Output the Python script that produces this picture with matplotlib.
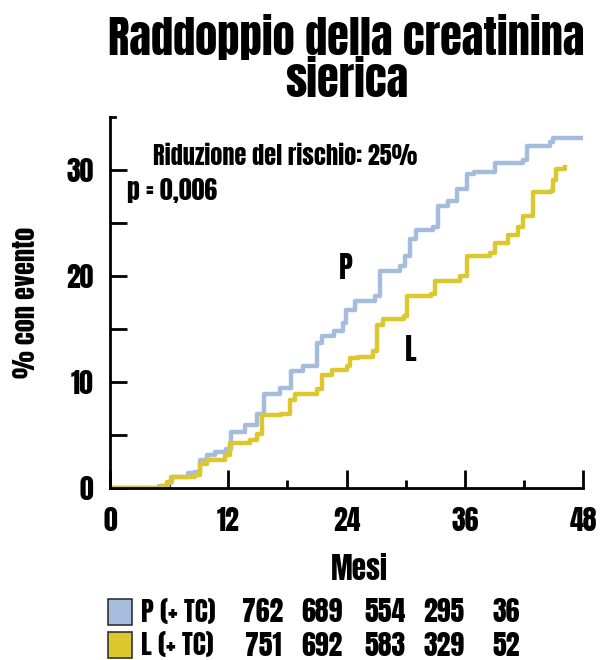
import matplotlib
matplotlib.use('Agg')
import matplotlib.pyplot as plt
from matplotlib.patches import Rectangle

# condensed heavy face first; fall back to plain families if absent
plt.rcParams['font.family'] = ['Anton', 'Oswald', 'Liberation Sans', 'DejaVu Sans']

# Kaplan-Meier style cumulative event curves
p_months = [0, 5.0, 5.9, 6.2, 7.9, 8.6, 9.1, 9.8, 10.7, 11.8, 12.3, 13.7, 14.9,
            15.6, 17.3, 18.4, 19.6, 21.0, 21.5, 22.7, 23.6, 23.9, 24.9, 26.9,
            27.4, 29.4, 29.9, 30.4, 31.1, 32.8, 33.3, 34.3, 35.2, 36.2, 36.9,
            39.1, 41.9, 42.3, 44.7, 45.0, 48.0]
p_pct = [0, 0.2, 0.5, 1.0, 1.4, 1.5, 2.6, 3.1, 3.4, 3.7, 5.3, 5.9, 7.0,
         8.9, 9.4, 11.0, 11.5, 13.7, 14.3, 14.8, 15.6, 16.8, 17.6, 18.1,
         20.5, 20.9, 21.9, 23.5, 24.3, 24.6, 26.6, 27.1, 28.2, 29.6, 29.8,
         30.7, 30.9, 32.3, 32.6, 33.0, 33.0]

l_months = [0, 5.2, 5.8, 6.3, 8.6, 9.1, 9.8, 11.7, 12.2, 14.2, 14.9, 15.4,
            17.4, 18.3, 18.8, 21.0, 21.5, 22.5, 24.0, 24.4, 25.2, 26.7, 27.1,
            27.7, 29.8, 30.1, 32.6, 33.0, 35.5, 36.2, 38.6, 39.1, 40.4, 41.4,
            41.9, 42.9, 44.8, 45.0, 45.3, 46.2]
l_pct = [0, 0.2, 0.6, 1.0, 1.2, 2.3, 2.6, 3.1, 4.2, 4.5, 5.1, 6.9,
         7.0, 8.3, 8.9, 9.3, 10.7, 11.1, 11.5, 12.3, 12.4, 12.9, 15.4,
         15.9, 16.2, 18.1, 18.3, 19.5, 20.0, 21.9, 22.2, 23.1, 23.9, 24.6,
         25.7, 27.9, 28.0, 29.1, 30.1, 30.3]

# numbers at risk
row_labels = ['P (+ TC)', 'L (+ TC)']
p_at_risk = [762, 689, 554, 295, 36]
l_at_risk = [751, 692, 583, 329, 52]

c_p = '#a5bcdc'
c_l = '#dcc72f'

fig = plt.figure(figsize=(6, 6.6), dpi=100)
ax = fig.add_axes([0.1833, 0.2606, 0.7884, 0.5621])

ax.step(p_months, p_pct, where='post', color=c_p, lw=3.2, solid_joinstyle='round')
ax.step(l_months, l_pct, where='post', color=c_l, lw=3.2, solid_joinstyle='round')

ax.set_xlim(0, 48)
ax.set_ylim(0, 35)
for s in ['top', 'right']:
    ax.spines[s].set_visible(False)
for s in ['left', 'bottom']:
    ax.spines[s].set_linewidth(2)

ax.set_xticks([0, 12, 24, 36, 48])
ax.set_xticks([6, 18, 30, 42], minor=True)
ax.set_yticks([0, 10, 20, 30])
ax.set_yticks([5, 15, 25], minor=True)
ax.tick_params(axis='x', which='major', direction='in', length=13, width=2,
               labelsize=20, pad=14)
ax.tick_params(axis='x', which='minor', direction='in', length=6, width=2)
ax.tick_params(axis='y', which='major', direction='in', length=12, width=2,
               labelsize=20, pad=12)
ax.tick_params(axis='y', which='minor', direction='in', length=12, width=2)
ax.plot([0, 0.5], [35, 35], color='black', lw=2, clip_on=False)

ax.set_xlabel('Mesi', fontsize=21)
ax.xaxis.set_label_coords(0.528, -0.178)
ax.set_ylabel('% con evento', fontsize=19, labelpad=20)

ax.text(4.4, 30.5, 'Riduzione del rischio: 25%', fontsize=17.5)
ax.text(1.7, 27.2, 'p = 0,006', fontsize=18.5)
ax.text(23.2, 19.7, 'P', fontsize=21)
ax.text(29.9, 12.0, 'L', fontsize=21)

fig.text(0.577, 0.912, 'Raddoppio della creatinina\nsierica', ha='center',
         va='center', fontsize=32, linespacing=0.97)

# numbers at risk table under the axis
col_x = [263, 322, 385, 444, 506]
rows = [(p_at_risk, c_p, 612), (l_at_risk, c_l, 645)]
for (vals, col, ypix), lab in zip(rows, row_labels):
    fig.patches.append(Rectangle((108 / 600, 1 - (ypix + 13) / 660), 24 / 600, 26 / 660,
                                 transform=fig.transFigure, facecolor=col,
                                 edgecolor='#333333', lw=1.2))
    fig.text(141 / 600, 1 - ypix / 660, lab, fontsize=19.5, va='center')
    for xp, v in zip(col_x, vals):
        fig.text(xp / 600, 1 - ypix / 660, str(v), fontsize=20,
                 ha='center', va='center')

fig.savefig('out.png', dpi=100)
